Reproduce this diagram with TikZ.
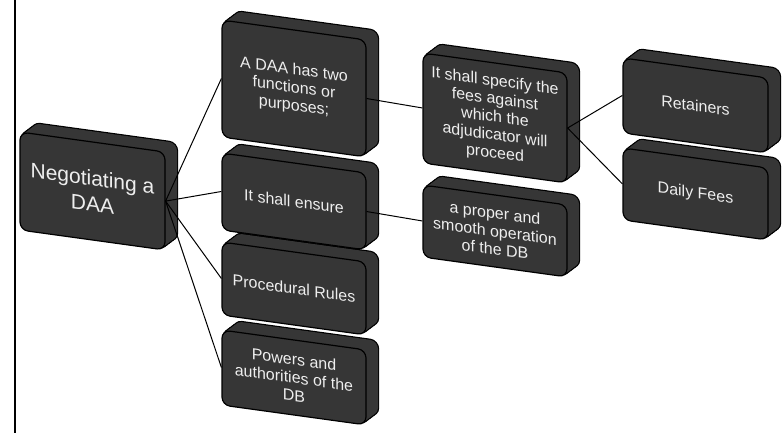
\documentclass[tikz,border=0pt]{standalone}
\usepackage{fontspec}
\setmainfont{Liberation Sans}
\usetikzlibrary{shadows}
\definecolor{boxgray}{HTML}{363636}
\definecolor{txtcol}{HTML}{EEEEEE}
\tikzset{
  box/.style={
    transform shape, shape=rectangle, rounded corners=8pt,
    minimum width=144pt, inner sep=2pt, align=center,
    font=\fontsize{16}{18}\selectfont, text=txtcol,
    general shadow={shadow xshift=12pt,shadow yshift=9pt,draw=black,line width=2.4pt},
    general shadow={shadow xshift=10pt,shadow yshift=7.5pt,draw=black,line width=2.4pt},
    general shadow={shadow xshift=8pt,shadow yshift=6pt,draw=black,line width=2.4pt},
    general shadow={shadow xshift=6pt,shadow yshift=4.5pt,draw=black,line width=2.4pt},
    general shadow={shadow xshift=4pt,shadow yshift=3pt,draw=black,line width=2.4pt},
    general shadow={shadow xshift=2pt,shadow yshift=1.5pt,draw=black,line width=2.4pt},
    general shadow={shadow xshift=12pt,shadow yshift=9pt,fill=boxgray},
    general shadow={shadow xshift=10pt,shadow yshift=7.5pt,fill=boxgray},
    general shadow={shadow xshift=8pt,shadow yshift=6pt,fill=boxgray},
    general shadow={shadow xshift=6pt,shadow yshift=4.5pt,fill=boxgray},
    general shadow={shadow xshift=4pt,shadow yshift=3pt,fill=boxgray},
    general shadow={shadow xshift=2pt,shadow yshift=1.5pt,fill=boxgray},
    fill=boxgray, draw=black, line width=1.2pt
  },
  rootbox/.style={box, minimum width=145pt, font=\fontsize{21}{26}\selectfont},
  link/.style={draw=black, line width=1pt}
}
\begin{document}
\begin{tikzpicture}[x=1pt,y=-1pt]
\useasboundingbox (0,0) rectangle (782,433);
\draw[line width=1.8pt] (15,0) -- (15,433);
% positions are given before the slant: y_given = y_page - 0.138 x
\begin{scope}[yslant=-0.138]
\node[box, minimum height=75pt] (b4) at (294,336.93) {Powers and\\authorities of the\\DB};
\node[box, minimum height=73pt] (b3) at (294,247.93) {Procedural Rules};
\node[box, minimum height=77pt] (b2) at (294,160.93) {It shall ensure};
\node[box, minimum height=117pt] (b1) at (294,47.93) {A DAA has two\\functions or\\purposes;};
\node[rootbox, minimum height=98pt] (root) at (92.5,178.24) {Negotiating a\\DAA};
\node[box, minimum height=72pt] (proper) at (495,162.69) {a proper and\\smooth operation\\of the DB};
\node[box, minimum height=110pt] (spec) at (495,49.69) {It shall specify the\\fees against\\which the\\adjudicator will\\proceed};
\node[box, minimum width=145pt, minimum height=72pt] (daily) at (695.5,98.02) {Daily Fees};
\node[box, minimum width=145pt, minimum height=75pt] (ret) at (695.5,9.52) {Retainers};
\end{scope}
\draw[link] (root.east) -- (b1.west);
\draw[link] (root.east) -- (b2.west);
\draw[link] (root.east) -- (b3.west);
\draw[link] (root.east) -- (b4.west);
\draw[link] (b1.east) -- (spec.west);
\draw[link] (b2.east) -- (proper.west);
\draw[link] (spec.east) -- (ret.west);
\draw[link] (spec.east) -- (daily.west);
\end{tikzpicture}
\end{document}
